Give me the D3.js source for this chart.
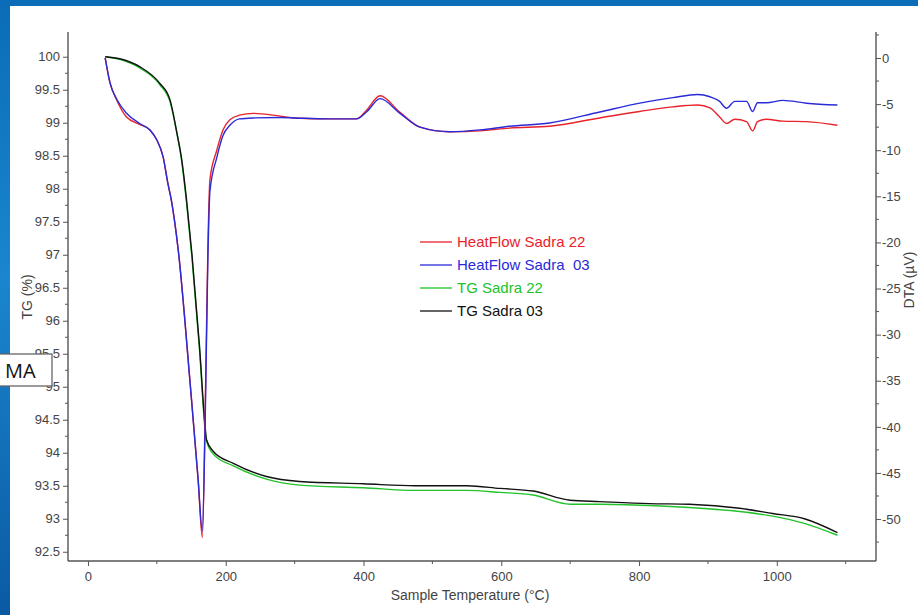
<!DOCTYPE html>
<html>
<head>
<meta charset="utf-8">
<script src="https://cdn.jsdelivr.net/npm/d3@7"></script>
<style>
  body { margin:0; padding:0; overflow:hidden; }
  .tick-label { font-family: "Liberation Sans Narrow", "Liberation Sans", Arial, sans-serif; font-size: 13px; fill: #444; }
  .axis-title { font-family: "Liberation Sans Narrow", "Liberation Sans", Arial, sans-serif; font-size: 14px; fill: #444; }
  .legend-text { font-family: "Liberation Sans", Arial, sans-serif; font-size: 15px; }
</style>
</head>
<body>
<svg id="chart" width="918" height="615"></svg>
<script>
//temperatures (C) for the TG curves and the two TG series (%)
var tgTemp = [25,46,75,104,119,129,136,143,151,162,170,172,182,211,259,307,400,475,550,598,646,700,743,815,873,946,994,1040,1088];
var tgSadra03 = [100,99.97,99.85,99.6,99.35,98.85,98.45,97.84,97.0,95.6,94.4,94.2,94.02,93.84,93.64,93.565,93.53,93.5,93.5,93.46,93.42,93.28,93.26,93.23,93.22,93.16,93.08,93.0,92.79];
var tgSadra22 = [100,99.96,99.83,99.58,99.32,98.85,98.42,97.8,96.95,95.55,94.35,94.18,93.98,93.8,93.6,93.51,93.47,93.43,93.43,93.4,93.36,93.22,93.22,93.2,93.17,93.11,93.04,92.93,92.75];

//temperatures (C) for the heat flow curves and the two DTA series (uV)
var hfTemp = [25,32,42,56,75,90,100,109,116,121,131,148,160,166,170,174,177,187,196,206,220,240,279,300,350,390,405,424,453,482,525,569,612,670,743,801,849,885,903,917,927,939,956,965,972,985,1009,1043,1088];
var hfSadra22 = [0,-2.7,-4.6,-6.4,-7.2,-7.8,-8.9,-10.7,-13.6,-15.4,-20.8,-35,-45.8,-52,-39,-20.8,-13.2,-10,-7.8,-6.7,-6.2,-6.0,-6.3,-6.5,-6.6,-6.6,-5.6,-4.1,-5.9,-7.5,-8.0,-7.9,-7.6,-7.4,-6.5,-5.8,-5.3,-5.1,-5.4,-6.4,-7.1,-6.65,-6.9,-7.9,-6.9,-6.65,-6.85,-6.9,-7.3];
var hfSadra03 = [0,-2.7,-4.5,-6.0,-7.1,-7.8,-8.9,-10.7,-13.6,-15.4,-20.8,-35,-45.8,-51.3,-40,-22,-14.5,-10.8,-8.4,-7.3,-6.6,-6.5,-6.45,-6.5,-6.6,-6.6,-5.8,-4.4,-6.0,-7.5,-8.0,-7.8,-7.4,-7.05,-5.85,-4.9,-4.3,-3.95,-4.2,-4.7,-5.45,-4.7,-4.7,-5.8,-4.85,-4.85,-4.6,-4.9,-5.1];

//tick values
var xTicks = [0,200,400,600,800,1000];
var tgTicks = [100,99.5,99,98.5,98,97.5,97,96.5,96,95.5,95,94.5,94,93.5,93,92.5];
var dtaTicks = [0,-5,-10,-15,-20,-25,-30,-35,-40,-45,-50];

var legendItems = [
  {name:"HeatFlow Sadra 22", color:"#e8232b"},
  {name:"HeatFlow Sadra  03", color:"#2a2ad8"},
  {name:"TG Sadra 22", color:"#22c22a"},
  {name:"TG Sadra 03", color:"#111111"}
];

var svg = d3.select("#chart");

//slide background (blue) with the white chart sheet on top
var defs = svg.append("defs");
var grad = defs.append("linearGradient").attr("id","slideBlue")
    .attr("x1",0).attr("y1",0).attr("x2",0).attr("y2",1);
grad.append("stop").attr("offset","0%").attr("stop-color","#0b6cb8");
grad.append("stop").attr("offset","45%").attr("stop-color","#1a86cf");
grad.append("stop").attr("offset","100%").attr("stop-color","#0a5aa3");
svg.append("rect").attr("width",918).attr("height",615).attr("fill","url(#slideBlue)");
svg.append("rect").attr("x",10).attr("y",6).attr("width",908).attr("height",609).attr("fill","#ffffff");

//plot frame
var plot = {left:68, right:876, top:32, bottom:561};

var x = d3.scaleLinear().domain([-29,1144]).range([plot.left,plot.right]);
var yTG = d3.scaleLinear().domain([92.36,100.375]).range([plot.bottom,plot.top]);
var yDTA = d3.scaleLinear().domain([-54.55,2.82]).range([plot.bottom,plot.top]);

var axisColor = "#555";
//plain hyphen minus and no thousands separator, like the original software
var plainFormat = function(d){ return String(d); };

//Left axis (TG)
var leftAxis = d3.axisLeft(yTG).tickValues(tgTicks).tickSize(5).tickFormat(plainFormat);
var gl = svg.append("g").attr("transform","translate(" + plot.left + ",0)").call(leftAxis);
//minor ticks at quarter percent
var tgMinor = d3.range(92.5,100.25,0.25).filter(function(d){ return Math.abs(d*2 - Math.round(d*2)) > 0.01; });
gl.selectAll(".minor").data(tgMinor).enter().append("line")
    .attr("class","minor").attr("x1",0).attr("x2",-3)
    .attr("y1",function(d){ return yTG(d); }).attr("y2",function(d){ return yTG(d); });

//Right axis (DTA)
var rightAxis = d3.axisRight(yDTA).tickValues(dtaTicks).tickSize(5).tickPadding(1).tickFormat(plainFormat);
var gr = svg.append("g").attr("transform","translate(" + plot.right + ",0)").call(rightAxis);
var dtaMinor = d3.range(2.5,-55,-5);
gr.selectAll(".minor").data(dtaMinor).enter().append("line")
    .attr("class","minor").attr("x1",0).attr("x2",3)
    .attr("y1",function(d){ return yDTA(d); }).attr("y2",function(d){ return yDTA(d); });

//Bottom axis (temperature)
var bottomAxis = d3.axisBottom(x).tickValues(xTicks).tickSize(5).tickPadding(6).tickFormat(plainFormat);
var gb = svg.append("g").attr("transform","translate(0," + plot.bottom + ")").call(bottomAxis);
var xMinor = [100,300,500,700,900,1100];
gb.selectAll(".minor").data(xMinor).enter().append("line")
    .attr("class","minor").attr("y1",0).attr("y2",3)
    .attr("x1",function(d){ return x(d); }).attr("x2",function(d){ return x(d); });

//style all the axes the same way
[gl,gr,gb].forEach(function(g){
  g.select(".domain").attr("stroke",axisColor).attr("stroke-width",1.4);
  g.selectAll("line").attr("stroke",axisColor);
  g.selectAll(".tick text").attr("class","tick-label").attr("fill",null);
});
gb.select(".domain").attr("d","M" + plot.left + ",0H" + plot.right);
gl.select(".domain").attr("d","M0," + plot.top + "V" + plot.bottom);
gr.select(".domain").attr("d","M0," + plot.top + "V" + plot.bottom);

//axis titles
svg.append("text").attr("class","axis-title")
    .attr("transform","translate(32,297)rotate(-90)").attr("text-anchor","middle").text("TG (%)");
svg.append("text").attr("class","axis-title")
    .attr("transform","translate(914,280)rotate(-90)").attr("text-anchor","middle").text("DTA (\u00b5V)");
svg.append("text").attr("class","axis-title")
    .attr("x",470).attr("y",600).attr("text-anchor","middle").text("Sample Temperature (\u00b0C)");

//curves
function drawCurve(temps, values, yScale, color) {
  var line = d3.line()
      .x(function(d,i){ return x(temps[i]); })
      .y(function(d){ return yScale(d); })
      .curve(d3.curveMonotoneX);
  svg.append("path").datum(values)
      .attr("d",line)
      .attr("fill","none")
      .attr("stroke",color)
      .attr("stroke-width",1.4)
      .attr("stroke-linejoin","round");
}
drawCurve(tgTemp, tgSadra22, yTG, legendItems[2].color);
drawCurve(tgTemp, tgSadra03, yTG, legendItems[3].color);
drawCurve(hfTemp, hfSadra22, yDTA, legendItems[0].color);
drawCurve(hfTemp, hfSadra03, yDTA, legendItems[1].color);

//legend
var legend = svg.append("g").attr("transform","translate(420,242)");
legendItems.forEach(function(item,i){
  var gy = i*23;
  legend.append("line").attr("x1",0).attr("x2",32).attr("y1",gy).attr("y2",gy)
      .attr("stroke",item.color).attr("stroke-width",1.3);
  legend.append("text").attr("class","legend-text").attr("x",37).attr("y",gy+5)
      .attr("fill",item.color).attr("xml:space","preserve").style("white-space","pre").text(item.name);
});

//"MA" label box pasted on the slide
svg.append("rect").attr("x",-2).attr("y",354).attr("width",54).attr("height",32)
    .attr("fill","#ffffff").attr("stroke","#666").attr("stroke-width",1.3);
svg.append("text").attr("x",5).attr("y",378)
    .style("font-family","'Open Sans', 'Noto Sans', sans-serif").style("font-size","20px").attr("fill","#111")
    .text("MA");
</script>
</body>
</html>
